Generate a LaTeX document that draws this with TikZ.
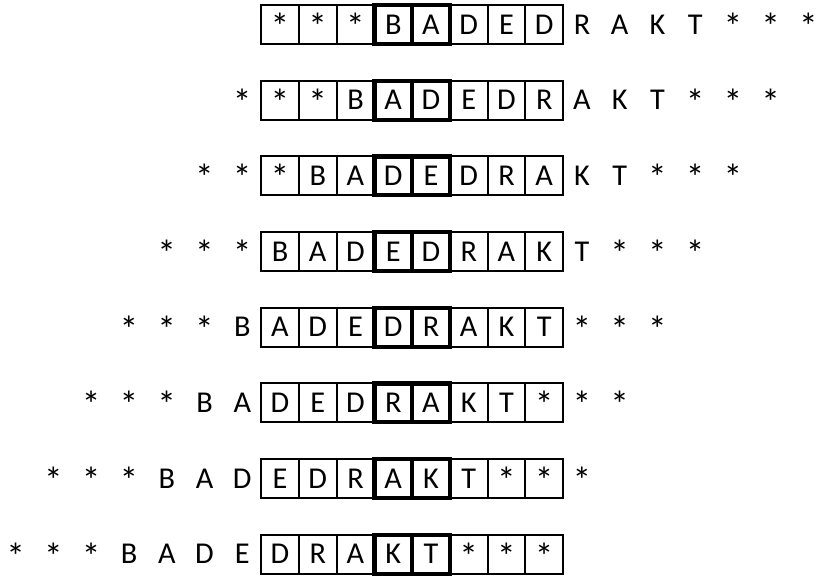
\documentclass[tikz,border=0pt]{standalone}
\usepackage{fontspec}
\setmainfont{Carlito}
\usetikzlibrary{positioning}
\tikzset{
  chr/.style ={inner sep=0pt, minimum width=28.3pt, minimum height=29.2pt,
               text height=14.6pt, text depth=0pt,
               font=\fontsize{22.7}{26}\selectfont},
  cell/.style={chr, draw=black, line width=1.4pt},
  hot/.style ={chr, draw=black, line width=3.2pt}
}
\def\starch{*}

\begin{document}
\begin{tikzpicture}[x=1pt, y=1pt]
\useasboundingbox (0,0) rectangle (612.75,-432);
% one row per shift, window of eight cells stays put
\foreach \r in {1,...,8}{
  \foreach \ch [count=\i] in {*,*,*,B,A,D,E,D,R,A,K,T,*,*,*}{
    \pgfmathtruncatemacro\col{\i-\r}
    \ifnum\col<0 \def\sty{chr}\else\ifnum\col>7 \def\sty{chr}\else
      \ifnum\col=3 \def\sty{hot}\else\ifnum\col=4 \def\sty{hot}\else
        \def\sty{cell}\fi\fi\fi\fi
    \node[\sty] (c\r-\i) at ({210+28.31*\col}, {-18.4-56.75*(\r-1)})
      {\ifx\ch\starch\fontsize{28}{30}\selectfont\raisebox{-4pt}[0pt][0pt]{*}\else\ch\fi};
  }
}
\end{tikzpicture}
\end{document}
